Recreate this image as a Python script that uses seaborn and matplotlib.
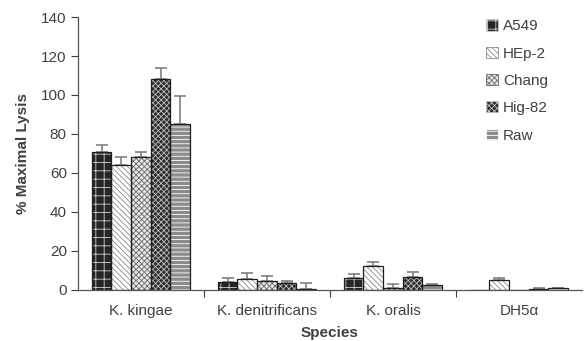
import pandas as pd
import seaborn as sns
import matplotlib.pyplot as plt
from matplotlib.patches import Rectangle, Patch
from matplotlib.ticker import FixedLocator

species = ["K. kingae", "K. denitrificans", "K. oralis", "DH5\u03b1"]
cells = ["A549", "HEp-2", "Chang", "Hig-82", "Raw"]
lysis = {
    "A549": [71, 4, 6, 0],
    "HEp-2": [64, 5.5, 12, 5],
    "Chang": [68, 4.5, 1, 0],
    "Hig-82": [108, 3.5, 6.5, 0.4],
    "Raw": [85, 0.2, 2.5, 0.8],
}
errors = {
    "A549": [3.5, 2, 2, 0],
    "HEp-2": [4, 3, 2.5, 1],
    "Chang": [3, 2.5, 2, 0],
    "Hig-82": [6, 1.2, 2.5, 0.3],
    "Raw": [14.5, 3.2, 0.6, 0.4],
}
# face colour, hatch, hatch colour
styles = {
    "A549": ("#262626", "++", "#cfcfcf"),
    "HEp-2": ("white", "\\\\\\\\\\\\", "#8a8a8a"),
    "Chang": ("#e8e8e8", "xxxxxx", "#6a6a6a"),
    "Hig-82": ("#2e2e2e", "xxxxxx", "#bdbdbd"),
    "Raw": ("#8c8c8c", "----", "white"),
}

COLOR = "0.25"
sns.set_theme(style="white")
plt.rcParams["font.family"] = ["Liberation Sans", "DejaVu Sans"]
plt.rcParams["text.color"] = COLOR
plt.rcParams["axes.labelcolor"] = COLOR
plt.rcParams["xtick.color"] = COLOR
plt.rcParams["ytick.color"] = COLOR
plt.rcParams["hatch.linewidth"] = 0.6

df = pd.DataFrame(
    [(s, c, lysis[c][i]) for c in cells for i, s in enumerate(species)],
    columns=["Species", "Cell", "Lysis"],
)

fig = plt.figure(figsize=(5.86, 3.41), dpi=100)
ax = fig.add_axes([0.133, 0.15, 0.86, 0.80])
sns.barplot(data=df, x="Species", y="Lysis", hue="Cell", order=species,
            hue_order=cells, width=0.78, errorbar=None, legend=False, ax=ax)

for cont, cell in zip(ax.containers, cells):
    fc, hatch, hc = styles[cell]
    for bar, err in zip(cont.patches, errors[cell]):
        bar.set_facecolor(fc)
        bar.set_hatch(hatch)
        bar.set_edgecolor(hc)
        bar.set_linewidth(0)
        x, w, h = bar.get_x(), bar.get_width(), bar.get_height()
        ax.add_patch(Rectangle((x, 0), w, h, fill=False, edgecolor="#1e1e1e",
                               lw=0.9, zorder=bar.get_zorder() + 0.1))
        if err > 0:
            ax.errorbar(x + w / 2, h, yerr=[[0], [err]], fmt="none",
                        ecolor="#808080", elinewidth=1.2, capsize=4,
                        capthick=1.2, zorder=1)

handles = []
for cell in cells:
    fc, hatch, hc = styles[cell]
    handles.append(Patch(facecolor=fc, hatch=hatch, edgecolor=hc, label=cell))
leg = ax.legend(handles=handles, loc="upper right", bbox_to_anchor=(0.96, 1.042),
                frameon=False, fontsize=11, handlelength=0.75, handleheight=0.75,
                handletextpad=0.35, labelspacing=0.87)
for h in leg.legend_handles:
    h.set_linewidth(0.6)

ax.set_ylim(0, 140)
ax.set_xlim(-0.5, 3.5)
ax.set_yticks(range(0, 141, 20))
ax.tick_params(axis="y", direction="out", length=5, width=0.8, left=True,
               labelsize=11, pad=3)
ax.tick_params(axis="x", which="major", length=0, labelsize=11, pad=10)
ax.xaxis.set_minor_locator(FixedLocator([0.5, 1.5, 2.5]))
ax.tick_params(axis="x", which="minor", direction="out", length=5, width=0.8,
               bottom=True)
sns.despine(ax=ax)
for sp in ["left", "bottom"]:
    ax.spines[sp].set_color("#555555")
    ax.spines[sp].set_linewidth(0.9)
ax.set_xlabel("Species", fontsize=11, fontweight="bold", labelpad=6)
ax.set_ylabel("% Maximal Lysis", fontsize=11, fontweight="bold", labelpad=8)

fig.savefig("out.png", dpi=100)
